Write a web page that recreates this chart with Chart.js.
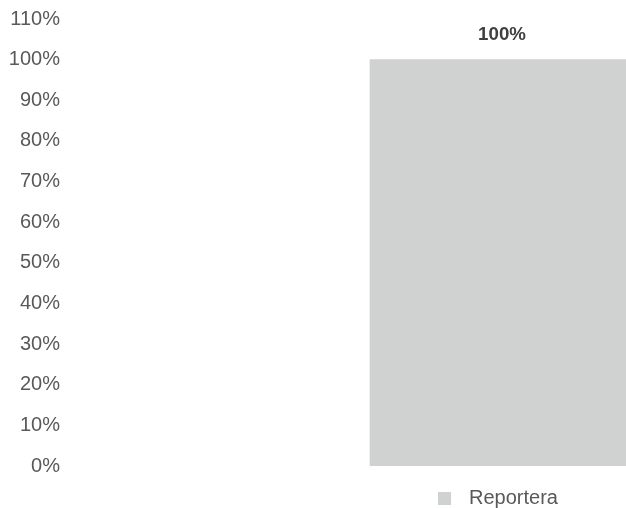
<!DOCTYPE html>
<html>
<head>
<meta charset="utf-8">
<script src="https://cdn.jsdelivr.net/npm/chart.js@4/dist/chart.umd.min.js"></script>
<style>
  html, body { margin: 0; padding: 0; background: #ffffff; }
  #wrap { width: 626px; height: 508px; position: relative; }
</style>
</head>
<body>
<div id="wrap"><canvas id="c" width="626" height="508"></canvas></div>
<script>
// ---- data ----
const categories = ["", "Reportera"];
const seriesLabel = "Reportera";
const seriesValues = [null, 100];
const yTickMin = 0;
const yTickMax = 110;
const yTickStep = 10;

const barColor = "#D0D1D1";
const tickColor = "#595959";
const labelColor = "#404040";
const fontFamily = "'Liberation Sans', Arial, sans-serif";

// legend marker: square on the left of a wider transparent canvas
const marker = document.createElement("canvas");
marker.width = 21;
marker.height = 13;
(function () {
  const g = marker.getContext("2d");
  g.fillStyle = barColor;
  g.fillRect(0, 0, 13, 13);
})();

const valueLabelPlugin = {
  id: "valueLabels",
  afterDatasetsDraw(chart) {
    const ctx = chart.ctx;
    chart.data.datasets.forEach((ds, di) => {
      const meta = chart.getDatasetMeta(di);
      meta.data.forEach((el, i) => {
        const v = ds.data[i];
        if (v === null || v === undefined) return;
        ctx.save();
        ctx.font = "bold 18.7px " + fontFamily;
        ctx.fillStyle = labelColor;
        ctx.textAlign = "center";
        ctx.textBaseline = "middle";
        ctx.fillText(v + "%", el.x + 4, el.y - 25);
        ctx.restore();
      });
    });
  }
};

const legendPlacePlugin = {
  id: "legendPlace",
  afterLayout(chart) {
    const lg = chart.legend;
    const xs = chart.scales.x;
    if (!lg || !xs) return;
    const half = (xs.right - xs.left) / categories.length / 2;
    const c = xs.getPixelForValue(1);
    lg.left = c - half;
    lg.right = c + half;
    lg.width = lg.right - lg.left;
    lg.top += 10;
    lg.bottom += 10;
  }
};

new Chart(document.getElementById("c"), {
  type: "bar",
  data: {
    labels: categories,
    datasets: [{
      label: seriesLabel,
      data: seriesValues,
      backgroundColor: barColor,
      borderWidth: 0,
      barPercentage: 1,
      categoryPercentage: 1
    }]
  },
  options: {
    responsive: false,
    animation: false,
    events: [],
    layout: { padding: { top: 19, left: 0, right: 0, bottom: 0 } },
    scales: {
      x: {
        display: true,
        grid: { display: false, drawTicks: false },
        border: { display: false },
        ticks: { display: false },
        afterFit(scale) { scale.height = 12; }
      },
      y: {
        min: yTickMin,
        max: yTickMax,
        grid: { display: false, drawTicks: false },
        border: { display: false },
        ticks: {
          stepSize: yTickStep,
          padding: 54,
          color: tickColor,
          font: { family: fontFamily, size: 20 },
          callback: (v) => v + "%"
        },
        afterFit(scale) {
          scale.width = 114;
          scale.paddingTop = 0;
          scale.paddingBottom = 0;
        }
      }
    },
    plugins: {
      tooltip: { enabled: false },
      legend: {
        display: true,
        position: "bottom",
        align: "center",
        labels: {
          usePointStyle: true,
          pointStyle: marker,
          pointStyleWidth: 21,
          boxHeight: 13,
          padding: 0,
          color: tickColor,
          font: { family: fontFamily, size: 20 }
        }
      }
    }
  },
  plugins: [valueLabelPlugin, legendPlacePlugin]
});
</script>
</body>
</html>
